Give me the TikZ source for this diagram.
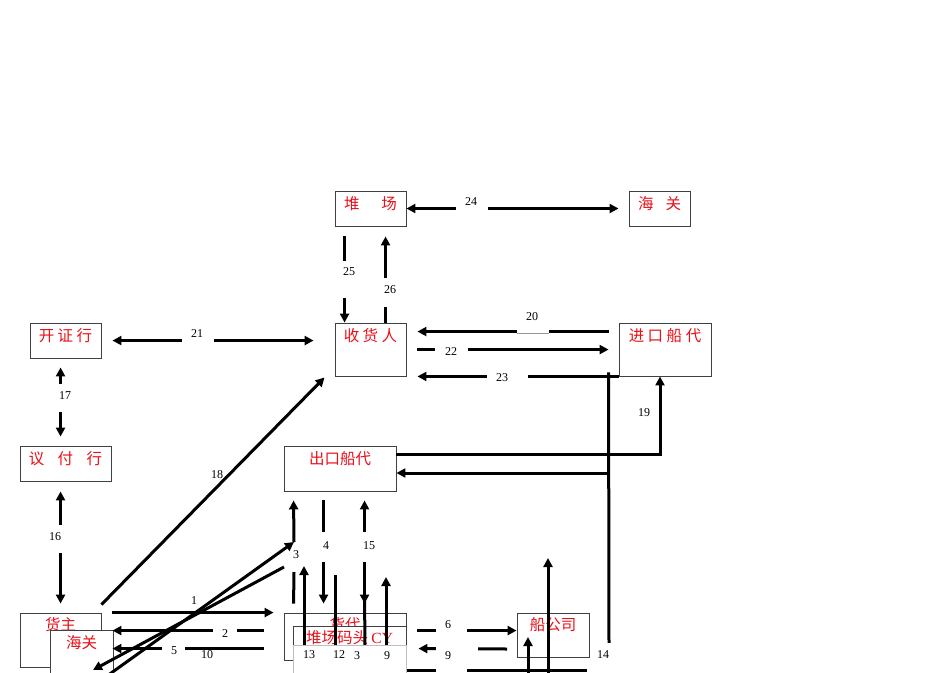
\documentclass[tikz,border=0pt]{standalone}
\usepackage{fontspec}
\setmainfont{Liberation Serif}
\newfontfamily\cjkf{Noto Sans CJK SC}
\usetikzlibrary{arrows.meta}
\definecolor{tred}{RGB}{232,16,24}
\begin{document}
\begin{tikzpicture}[x=1pt,y=-1pt,
  box/.style={draw=black!75, line width=0.9pt, inner sep=0pt},
  wbox/.style={box, fill=white},
  cnt/.style={text=tred, font=\cjkf\fontsize{15.5}{16}\selectfont, inner sep=0pt},
  ln/.style={line width=3pt},
  ar/.style={ln, -{Triangle[length=9pt,width=9pt]}},
  arr/.style={ln, {Triangle[length=9pt,width=9pt]}-{Triangle[length=9pt,width=9pt]}},
  gap/.style={fill=white, inner sep=0pt},
  num/.style={font=\fontsize{12}{13}\selectfont, inner sep=0pt}]
\clip (0,0) rectangle (950,672);
\fill[white] (0,0) rectangle (950,672);

% ---------- boxes ----------
\node[box, minimum width=71pt, minimum height=35pt] (dc) at (370.5,208.5) {};
\node[cnt] (dct) at ([yshift=-13pt]dc.north) {堆\kern22pt场};
\node[box, minimum width=61pt, minimum height=35pt] (hg1) at (659.5,208.5) {};
\node[cnt] (hg1t) at ([yshift=-13pt]hg1.north) {海\kern12pt关};
\node[box, minimum width=71pt, minimum height=53pt] (shr) at (370.5,349.5) {};
\node[cnt] (shrt) at ([yshift=-13pt]shr.north) {收\kern3.5pt货\kern3.5pt人};
\node[box, minimum width=92pt, minimum height=53pt] (jkcd) at (665,349.5) {};
\node[cnt] (jkcdt) at ([yshift=-13pt]jkcd.north) {进\kern3.5pt口\kern3.5pt船\kern3.5pt代};
\node[box, minimum width=71pt, minimum height=35pt] (kzh) at (65.5,340.5) {};
\node[cnt] (kzht) at ([yshift=-13pt]kzh.north) {开\kern3.5pt证\kern3.5pt行};
\node[box, minimum width=91pt, minimum height=35pt] (yfh) at (65.5,463.5) {};
\node[cnt] (yfht) at ([yshift=-13pt]yfh.north) {议\kern13.5pt付\kern13.5pt行};
\node[box, minimum width=112pt, minimum height=45pt] (ckcd) at (340,468.5) {};
\node[cnt] (ckcdt) at ([yshift=-13pt]ckcd.north) {出口船代};
\node[box, minimum width=81pt, minimum height=54pt] (hz) at (60.5,640) {};
\node[cnt] (hzt) at ([yshift=-12pt]hz.north) {货主};
\node[wbox, minimum width=63pt, minimum height=50pt] (hg2) at (81.5,655) {};
\node[cnt] (hg2t) at ([yshift=-13pt]hg2.north) {海关};
\node[box, minimum width=122pt, minimum height=47pt] (hd) at (345,636.5) {};
\node[cnt] (hdt) at ([yshift=-12pt]hd.north) {货代};
\node[wbox, minimum width=113pt, minimum height=50pt] (cy) at (349.5,651) {};
\node[cnt] (cyt) at ([yshift=-12pt]cy.north) {堆场码头 {\rmfamily CY}};
\node[box, minimum width=72pt, minimum height=44pt] (cgs) at (553,635) {};
\node[cnt] (cgst) at ([yshift=-12pt]cgs.north) {船公司};

% ---------- free ends ----------
\coordinate (c14top) at ([shift={(-10,-4)}]jkcd.south west);
\coordinate (c14bot) at (609,645);
\coordinate (c14m) at (609,473);
\coordinate (c3a) at (100,681);
\coordinate (c3b) at (294,542);
\coordinate (c3c) at (284,567);
\coordinate (c3d) at (93,670);
\coordinate (c3e) at (294,572);
\coordinate (c15e) at (365,646);
\coordinate (c13a) at (304,646);
\coordinate (c13b) at (304,566);
\coordinate (c12a) at (335,575);
\coordinate (c12b) at (335,646);
\coordinate (c9a) at (386,646);
\coordinate (c9b) at (386,577);
\coordinate (c9h) at (507,649);
\coordinate (cba) at (386,670);
\coordinate (cbb) at (587,670);
\coordinate (cv1a) at (528,680);
\coordinate (cv1b) at (528,637);
\coordinate (cv2a) at (548,680);
\coordinate (cv2b) at (548,558);

% ---------- connectors ----------
\draw[arr] (dc.east) -- ([xshift=-10pt]hg1.west);
\draw[ar] ([shift={(10,10)}]dc.south west) -- ([xshift=10pt]shr.north west);
\draw[ar] ([xshift=51pt]shr.north west) -- ([shift={(51,10)}]dc.south west);
\draw[ar] ([shift={(-10,9)}]jkcd.north west) -- ([shift={(11,9)}]shr.north east);
\draw[ar] ([shift={(11,27)}]shr.north east) -- ([shift={(-10,27)}]jkcd.north west);
\draw[ar] (jkcd.south west) -- ([xshift=11pt]shr.south east);
\draw[arr] ([shift={(11,18)}]kzh.north east) -- ([shift={(-21,18)}]shr.north west);
\draw[arr] ([shift={(31,9)}]kzh.south west) -- ([shift={(41,-9)}]yfh.north west);
\draw[arr] ([shift={(41,10)}]yfh.south west) -- ([shift={(41,-9)}]hz.north west);
\draw[ar] ([shift={(0,-8)}]hz.north east) -- ([shift={(-10,1)}]shr.south west);
\draw[ar] ([yshift=-9pt]ckcd.north east) -| ([xshift=-5pt]jkcd.south);
\draw[ln] (c14top) -- (c14bot);
\draw[ar] (c14m) -- (ckcd.east |- c14m);
\draw[ar] (c3a) -- (c3b);
\draw[ar] (c3b) -- ([shift={(10,9)}]ckcd.south west);
\draw[ln] (c3e) -- ([shift={(10,-9)}]hd.north west);
\draw[ar] (c3c) -- (c3d);
\draw[ar] ([shift={(40,9)}]ckcd.south west) -- ([shift={(40,-9)}]hd.north west);
\draw[arr] ([shift={(81,9)}]ckcd.south west) -- ([shift={(81,-9)}]hd.north west);
\draw[ln] ([shift={(81,-12)}]hd.north west) -- (c15e);
\draw[ar] (c13a) -- (c13b);
\draw[ln] (c12a) -- (c12b);
\draw[ar] (c9a) -- (c9b);
\draw[ar] ([xshift=11pt]hz.north east) -- ([xshift=-10pt]hd.north west);
\draw[ar] ([shift={(-20,18)}]hd.north west) -- ([shift={(11,18)}]hz.north east);
\draw[ar] ([shift={(-20,36)}]hd.north west) -- ([shift={(11,36)}]hz.north east);
\draw[ar] ([shift={(11,18)}]hd.north east) -- ([yshift=-18pt]cgs.north west);
\draw[ar] (c9h) -- ([shift={(12,36)}]hd.north east);
\draw[ln] (cba) -- (cbb);
\draw[ar] (cv1a) -- (cv1b);
\draw[ar] (cv2a) -- (cv2b);

% ---------- gaps and labels ----------
\node[gap, minimum width=32pt, minimum height=14pt] (g24) at (472,207) {};
\node[num] (l24) at (471,202) {24};
\node[gap, minimum width=10pt, minimum height=37pt] (g25) at (345,279.5) {};
\node[num] (l25) at (349,272) {25};
\node[gap, minimum width=10pt, minimum height=29pt] (g26) at (386,292.5) {};
\node[num] (l26) at (390,290) {26};
\node[gap, minimum width=32pt, minimum height=18pt] (g20) at (533,324) {};
\draw[black!40, line width=0.6pt] (g20.south west) -- (g20.south east);
\node[num] (l20) at (532,317) {20};
\node[gap, minimum width=33pt, minimum height=14pt] (g22) at (451.5,350) {};
\node[num] (l22) at (451,352) {22};
\node[gap, minimum width=41pt, minimum height=14pt] (g23) at (507.5,376) {};
\node[num] (l23) at (502,378) {23};
\node[gap, minimum width=32pt, minimum height=14pt] (g21) at (198,341) {};
\node[num] (l21) at (197,334) {21};
\node[gap, minimum width=10pt, minimum height=28pt] (g17) at (61,398) {};
\node[num] (l17) at (65,396) {17};
\node[gap, minimum width=10pt, minimum height=28pt] (g16) at (61,539) {};
\node[num] (l16) at (55,537) {16};
\node[num] (l18) at (217,475) {18};
\node[num] (l19) at (644,413) {19};
\node[num] (l3) at (296,555) {3};
\node[gap, minimum width=10pt, minimum height=30pt] (g4) at (324,547) {};
\node[num] (l4) at (326,546) {4};
\node[gap, minimum width=10pt, minimum height=30pt] (g15) at (365,547) {};
\node[num] (l15) at (369,546) {15};
\node[num] (l1) at (194,601) {1};
\node[gap, minimum width=24pt, minimum height=14pt] (g2) at (225,631) {};
\node[num] (l2) at (225,634) {2};
\node[gap, minimum width=23pt, minimum height=12pt] (g5) at (173.5,649) {};
\node[num] (l5) at (174,651) {5};
\node[num] (l10) at (207,655) {10};
\node[gap, minimum width=31pt, minimum height=16pt] (g6) at (451.5,631) {};
\node[num] (l6) at (448,625) {6};
\node[gap, minimum width=42pt, minimum height=14pt] (g9) at (457,649) {};
\node[gap, minimum width=31pt, minimum height=8pt] (gb) at (451.5,670) {};
\node[num] (l9) at (448,656) {9};
\node[gap, minimum width=26pt, minimum height=29pt] (g14) at (603,657.5) {};
\node[num] (l14) at (603,655) {14};
\node[gap, draw=black!25, line width=0.5pt, minimum width=113pt, minimum height=28pt] (strip) at (349.5,659) {};
\node[num] (l13) at (309,655) {13};
\node[num] (l12) at (339,655) {12};
\node[num] (l8) at (357,656) {3};
\node[num] (l9b) at (387,656) {9};
\end{tikzpicture}
\end{document}
